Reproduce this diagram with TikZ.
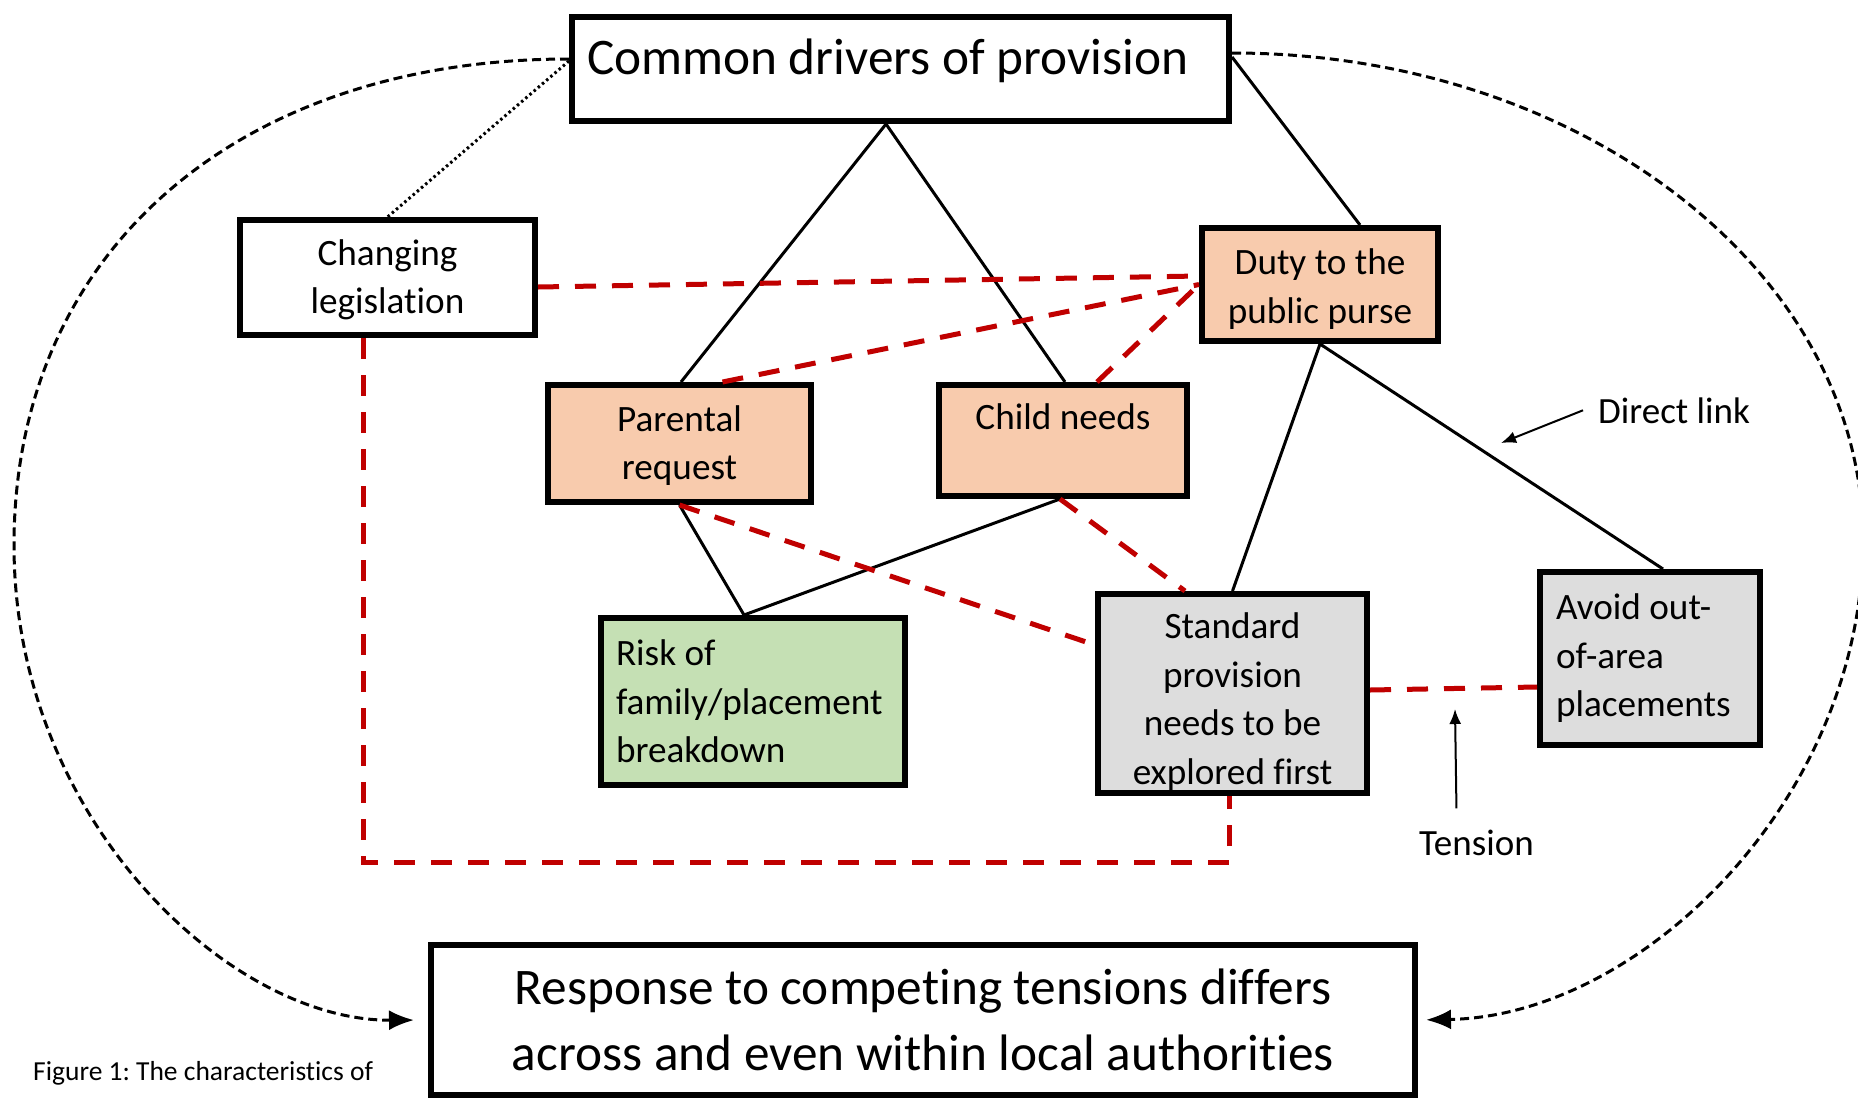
\documentclass[tikz,border=0pt]{standalone}
\usepackage{fontspec}
\setmainfont{Carlito}[Ligatures={NoCommon,NoContextual}]
\usetikzlibrary{arrows.meta}
\definecolor{boxorange}{HTML}{F8CBAD}
\definecolor{boxgreen}{HTML}{C5E0B4}
\definecolor{boxgrey}{HTML}{DDDDDD}
\definecolor{tensionred}{HTML}{C00000}
\frenchspacing
\begin{document}
\begin{tikzpicture}[x=1pt,y=-1pt,
  box/.style={draw=black, line width=6pt, inner sep=0pt, align=center, font=\fontsize{37.2}{48.5}\selectfont},
  bigbox/.style={box, font=\fontsize{51.3}{66}\selectfont},
  link/.style={line width=3pt, draw=black},
  tensionline/.style={line width=5pt, draw=tensionred, dash pattern=on 21pt off 16pt},
  loopline/.style={line width=3pt, draw=black, dash pattern=on 9pt off 5pt, -{Latex[length=25pt,width=20pt]}},
  dottedline/.style={line width=3pt, draw=black, dash pattern=on 2.5pt off 3pt},
  note/.style={inner sep=0pt, font=\fontsize{37}{44}\selectfont},
  pointer/.style={line width=2pt, draw=black, -{Latex[length=15pt,width=12pt]}},
]
\useasboundingbox (0,0) rectangle (1858,1098);
\clip (0,0) rectangle (1858,1098);
\fill[white] (0,0) rectangle (1858,1098);

% boxes
\node[bigbox, fill=white, minimum width=657pt, minimum height=104pt, text height=57.5pt, text depth=46.5pt, text width=627pt, inner xsep=15pt, align=left] (common) at (900.5,69) {\spaceskip=0pt\xspaceskip=0pt\relax Common drivers of provision};
\node[box, fill=white, minimum width=295pt, minimum height=115pt] (legis) at (387.5,277.5) {\rule{0pt}{30pt}Changing\\legislation};
\node[box, fill=boxorange, minimum width=236pt, minimum height=113pt] (duty) at (1320,284.5) {\rule{0pt}{35pt}Duty to the\\public purse};
\node[box, fill=boxorange, minimum width=263pt, minimum height=117pt] (parent) at (679.5,443.5) {\rule{0pt}{30pt}Parental\\request};
\node[box, fill=boxorange, minimum width=248pt, minimum height=111pt, text height=44.5pt, text depth=66.5pt] (child) at (1063,440.5) {Child needs};
\node[box, fill=boxgreen, minimum width=304pt, minimum height=167pt, text width=274pt, inner xsep=15pt, align=left] (risk) at (753,701.5) {\spaceskip=0pt\xspaceskip=0pt\relax Risk of\\family/placement\\breakdown};
\node[box, fill=boxgrey, minimum width=269pt, minimum height=199pt] (std) at (1232.5,693.5) {\rule{0pt}{42pt}Standard\\provision\\needs to be\\explored first};
\node[box, fill=boxgrey, minimum width=220pt, minimum height=173pt, text width=188pt, inner xsep=16pt, align=left] (avoid) at (1650,658.5) {\spaceskip=0pt\xspaceskip=0pt\relax Avoid out-\\of-area\\placements};
\node[bigbox, fill=white, minimum width=984pt, minimum height=150pt] (resp) at (923,1020) {Response to competing tensions differs\\across and even within local authorities};

% labels
\node[note, anchor=base west] (dl) at (1598,423) {Direct link};
\node[note, anchor=base west] (tn) at (1419,855) {Tension};
\node[inner sep=0pt, anchor=base west, font=\fontsize{27.5}{33}\selectfont] (cap) at (33,1080) {Figure 1: The characteristics of};

% direct links
\draw[link] ([xshift=-14.5pt]common.south) -- ([xshift=1.5pt]parent.north);
\draw[link] ([xshift=-14.5pt]common.south) -- ([xshift=2pt]child.north);
\draw[link] ([yshift=12pt]common.east) -- ([xshift=40pt]duty.north);
\draw[link] (duty.south) -- (std.north);
\draw[link] (duty.south) -- ([xshift=13pt]avoid.north);
\draw[link] (parent.south) -- ([xshift=-9pt]risk.north);
\draw[link] ([xshift=-3pt]child.south) -- ([xshift=-9pt]risk.north);

% tensions
\draw[tensionline] ([yshift=-9.5pt]legis.east) -- ([yshift=8.5pt]duty.west);
\draw[tensionline] ([xshift=43pt]parent.north) -- (duty.west);
\draw[tensionline] ([xshift=34pt]child.north) -- (duty.west);
\draw[tensionline] (parent.south) -- ([yshift=48.5pt]std.west);
\draw[tensionline] ([xshift=-3pt]child.south) -- ([xshift=-47.5pt]std.north);
\draw[tensionline] ([yshift=3.5pt]std.east) -- ([yshift=-28.5pt]avoid.west);
\coordinate (redcorner) at (363,862);
\draw[tensionline] ([xshift=-24.5pt]legis.south) -- (redcorner) -| ([xshift=-3.5pt]std.south);

% dotted
\draw[dottedline] ([yshift=8pt]common.west) -- (legis.north);

% outer loops
\draw[loopline, shorten >=14pt] ([yshift=10pt]common.west) .. controls (240,59) and (14,250) .. (14,545) .. controls (14,820) and (230,1021) .. (resp.west);
\draw[loopline, shorten >=8pt] ([yshift=16pt]common.east) .. controls (1580,53) and (1863,271) .. (1863,540) .. controls (1863,800) and (1640,1016) .. (resp.east);

% annotation arrows
\coordinate (dltip) at (1501,443);
\draw[pointer] ([xshift=-15pt]dl.west) -- (dltip);
\coordinate (tntip) at (1455,709);
\draw[pointer] ([xshift=-20pt,yshift=21pt]tn.north) -- (tntip);
\end{tikzpicture}
\end{document}
